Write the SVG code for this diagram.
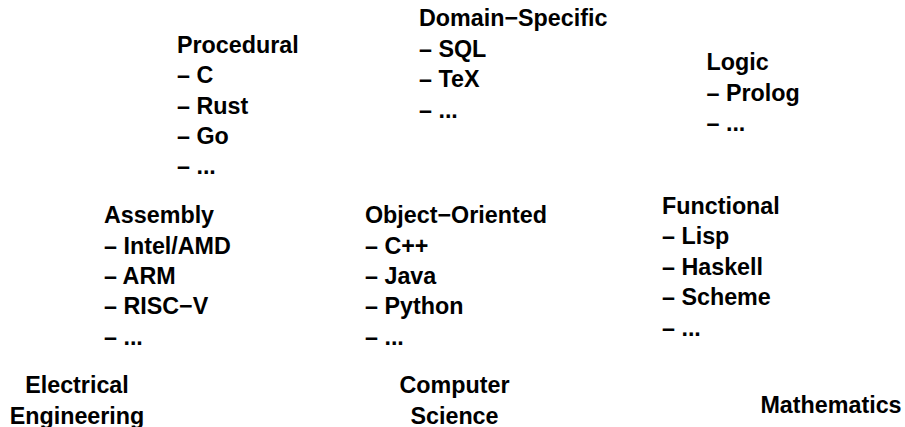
<svg xmlns="http://www.w3.org/2000/svg" width="905" height="427" viewBox="0 0 905 427">
<style>
text{font-family:"Liberation Sans",Arial,sans-serif;font-weight:bold;font-size:23.3px;fill:#000}
.c{text-anchor:middle}
</style>
<rect width="905" height="427" fill="#fff"/>
<g id="connectors"/>
<g id="procedural">
<text x="177" y="53">Procedural</text>
<text x="177" y="83.3">– C</text>
<text x="177" y="113.6">– Rust</text>
<text x="177" y="143.9">– Go</text>
<text x="177" y="174.2">– ...</text>
</g>
<g id="domain-specific">
<text x="419" y="26">Domain−Specific</text>
<text x="419" y="56.6">– SQL</text>
<text x="419" y="87.2">– TeX</text>
<text x="419" y="117.8">– ...</text>
</g>
<g id="logic">
<text x="706.5" y="69.5">Logic</text>
<text x="706.5" y="100.5">– Prolog</text>
<text x="706.5" y="131">– ...</text>
</g>
<g id="assembly">
<text x="104" y="223.3">Assembly</text>
<text x="104" y="253.8">– Intel/AMD</text>
<text x="104" y="284.3">– ARM</text>
<text x="104" y="314.3">– RISC−V</text>
<text x="104" y="345">– ...</text>
</g>
<g id="object-oriented">
<text x="365" y="223.3">Object−Oriented</text>
<text x="365" y="253.8">– C++</text>
<text x="365" y="284.3">– Java</text>
<text x="365" y="314.3">– Python</text>
<text x="365" y="345">– ...</text>
</g>
<g id="functional">
<text x="662" y="213.5">Functional</text>
<text x="662" y="244">– Lisp</text>
<text x="662" y="274.5">– Haskell</text>
<text x="662" y="305">– Scheme</text>
<text x="662" y="335.5">– ...</text>
</g>
<g id="electrical-engineering">
<text class="c" x="77" y="393.3">Electrical</text>
<text class="c" x="77" y="423.5">Engineering</text>
</g>
<g id="computer-science">
<text class="c" x="454.5" y="393.3">Computer</text>
<text class="c" x="454.5" y="423.5">Science</text>
</g>
<g id="mathematics">
<text class="c" x="831" y="413.3">Mathematics</text>
</g>
</svg>
